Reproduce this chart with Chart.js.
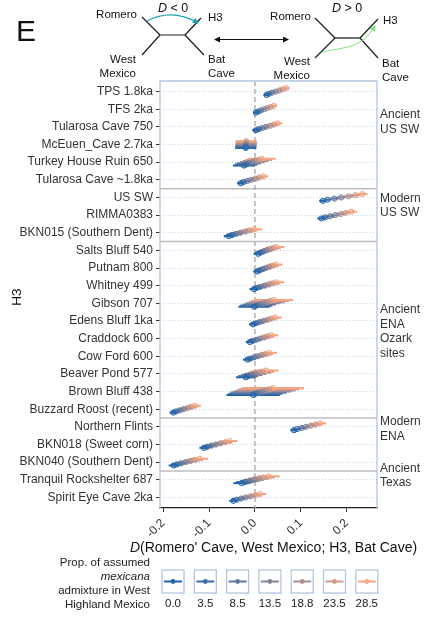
<!DOCTYPE html>
<html><head><meta charset="utf-8">
<script src="https://cdn.jsdelivr.net/npm/chart.js@4"></script>
<style>
html,body{margin:0;padding:0;background:#fff;}
#wrap{position:relative;width:427px;height:617px;overflow:hidden;}
#c{position:absolute;left:0;top:0;}
#diag{position:absolute;left:0;top:0;}
#diag text{font-family:"Liberation Sans",Arial,Helvetica,sans-serif;fill:#111;}
</style></head><body>
<div id="wrap">
<canvas id="c" width="427" height="617"></canvas>
<svg id="diag" width="427" height="86" viewBox="0 0 427 86">
<defs>
<marker id="ab" markerWidth="6" markerHeight="6" refX="5" refY="3" orient="auto" markerUnits="userSpaceOnUse"><path d="M0,0 L6,3 L0,6 z" fill="#111"/></marker>
<marker id="as" markerWidth="6" markerHeight="6" refX="1" refY="3" orient="auto" markerUnits="userSpaceOnUse"><path d="M6,0 L0,3 L6,6 z" fill="#111"/></marker>
<marker id="at" markerWidth="6" markerHeight="6" refX="5" refY="3" orient="auto" markerUnits="userSpaceOnUse"><path d="M0,0 L6,3 L0,6 z" fill="#1AA3B5"/></marker>
<marker id="ag" markerWidth="6" markerHeight="6" refX="5" refY="3" orient="auto" markerUnits="userSpaceOnUse"><path d="M0,0 L6,3 L0,6 z" fill="#7EDC7E"/></marker>
</defs>
<text x="16" y="41" font-size="30">E</text>
<!-- left tree -->
<g stroke="#222" stroke-width="1.3" fill="none">
<line x1="142" y1="17" x2="160" y2="35"/>
<line x1="160" y1="35" x2="185" y2="35" stroke="#555"/>
<line x1="185" y1="35" x2="201" y2="18"/>
<line x1="160" y1="35" x2="142" y2="55"/>
<line x1="185" y1="35" x2="204" y2="55"/>
</g>
<path d="M147,21 Q172,8 198,23" stroke="#1AA3B5" stroke-width="1.2" fill="none" marker-end="url(#at)"/>
<text x="137" y="18" font-size="11.5" text-anchor="end">Romero</text>
<text x="208" y="21" font-size="11.5">H3</text>
<text x="136" y="63" font-size="11.5" text-anchor="end">West</text>
<text x="136" y="77" font-size="11.5" text-anchor="end">Mexico</text>
<text x="208" y="63" font-size="11.5">Bat</text>
<text x="208" y="77" font-size="11.5">Cave</text>
<text x="173" y="12" font-size="12.5" text-anchor="middle"><tspan font-style="italic">D</tspan> &lt; 0</text>
<line x1="215" y1="39.5" x2="288" y2="39.5" stroke="#111" stroke-width="1" marker-end="url(#ab)" marker-start="url(#as)"/>
<!-- right tree -->
<g stroke="#222" stroke-width="1.3" fill="none">
<line x1="315" y1="18" x2="335" y2="38"/>
<line x1="335" y1="38" x2="360" y2="38"/>
<line x1="360" y1="38" x2="378" y2="19"/>
<line x1="335" y1="38" x2="315" y2="58"/>
<line x1="360" y1="38" x2="378" y2="58"/>
</g>
<path d="M322,52 C346,47 362,48 375,26" stroke="#7EDC7E" stroke-width="1" fill="none" marker-end="url(#ag)"/>
<text x="311" y="20" font-size="11.5" text-anchor="end">Romero</text>
<text x="383" y="24" font-size="11.5">H3</text>
<text x="310" y="65" font-size="11.5" text-anchor="end">West</text>
<text x="310" y="79" font-size="11.5" text-anchor="end">Mexico</text>
<text x="382" y="67" font-size="11.5">Bat</text>
<text x="382" y="81" font-size="11.5">Cave</text>
<text x="347" y="12" font-size="12.5" text-anchor="middle"><tspan font-style="italic">D</tspan> &gt; 0</text>
</svg>
</div>
<script>
// ---------- DATA ----------
const categories = [
  'TPS 1.8ka','TFS 2ka','Tularosa Cave 750','McEuen_Cave 2.7ka','Turkey House Ruin 650','Tularosa Cave ~1.8ka',
  'US SW','RIMMA0383','BKN015 (Southern Dent)',
  'Salts Bluff 540','Putnam 800','Whitney 499','Gibson 707','Edens Bluff 1ka','Craddock 600','Cow Ford 600','Beaver Pond 577','Brown Bluff 438','Buzzard Roost (recent)',
  'Northern Flints','BKN018 (Sweet corn)','BKN040 (Southern Dent)',
  'Tranquil Rockshelter 687','Spirit Eye Cave 2ka'
];
const groupNames = [['Ancient','US SW'],['Modern','US SW'],['Ancient','ENA','Ozark','sites'],['Modern','ENA'],['Ancient','Texas']];
const groupSizes = [6,3,10,3,2];
const groupLabelRow = [1.33,6.05,12.38,18.71,21.35];
const admixture = ['0.0','3.5','8.5','13.5','18.8','23.5','28.5'];
const xTicks = [-0.2,-0.1,0.0,0.1,0.2];

// D statistic per admixture proportion (one value per category)
const d_00 = [0.025,0.002,0.002,-0.020,-0.024,-0.031,0.148,0.145,-0.057,0.007,0.005,-0.002,-0.002,-0.004,-0.011,-0.016,-0.020,-0.004,-0.178,0.085,-0.111,-0.177,-0.029,-0.047];
const d_35 = [0.030,0.007,0.008,-0.020,-0.019,-0.025,0.158,0.153,-0.050,0.012,0.010,0.004,0.003,0.002,-0.005,-0.010,-0.015,0.001,-0.172,0.092,-0.104,-0.170,-0.022,-0.040];
const d_85 = [0.037,0.013,0.016,-0.020,-0.013,-0.017,0.173,0.164,-0.041,0.018,0.017,0.012,0.010,0.010,0.003,-0.002,-0.007,0.008,-0.164,0.102,-0.095,-0.161,-0.012,-0.030];
const d_135 = [0.045,0.020,0.024,-0.019,-0.006,-0.008,0.188,0.175,-0.032,0.025,0.023,0.021,0.018,0.018,0.011,0.006,0.000,0.016,-0.156,0.111,-0.085,-0.151,-0.002,-0.020];
const d_188 = [0.053,0.027,0.033,-0.019,0.001,0.001,0.204,0.187,-0.021,0.032,0.031,0.030,0.026,0.027,0.020,0.015,0.009,0.024,-0.147,0.122,-0.075,-0.141,0.009,-0.009];
const d_235 = [0.060,0.034,0.041,-0.019,0.008,0.009,0.219,0.198,-0.012,0.039,0.038,0.038,0.033,0.035,0.028,0.023,0.016,0.031,-0.139,0.132,-0.065,-0.131,0.019,0.001];
const d_285 = [0.068,0.041,0.049,-0.019,0.015,0.018,0.234,0.210,-0.002,0.046,0.045,0.047,0.041,0.044,0.036,0.031,0.024,0.039,-0.131,0.142,-0.055,-0.121,0.030,0.011];

// half-width of the confidence interval
const ci_00 = [0.006,0.006,0.008,0.023,0.024,0.008,0.008,0.009,0.011,0.010,0.009,0.010,0.034,0.009,0.009,0.010,0.021,0.058,0.008,0.008,0.010,0.011,0.018,0.009];
const ci_35 = [0.006,0.006,0.008,0.023,0.025,0.008,0.008,0.009,0.012,0.011,0.010,0.011,0.035,0.010,0.010,0.011,0.022,0.059,0.009,0.009,0.011,0.012,0.019,0.010];
const ci_85 = [0.007,0.006,0.009,0.023,0.026,0.009,0.009,0.010,0.013,0.012,0.011,0.012,0.036,0.010,0.011,0.012,0.023,0.061,0.009,0.009,0.012,0.013,0.020,0.010];
const ci_135 = [0.007,0.006,0.009,0.023,0.027,0.009,0.009,0.010,0.014,0.014,0.012,0.013,0.038,0.011,0.012,0.013,0.024,0.063,0.010,0.010,0.013,0.015,0.021,0.011];
const ci_188 = [0.007,0.007,0.010,0.023,0.028,0.010,0.010,0.011,0.016,0.015,0.013,0.015,0.039,0.012,0.013,0.015,0.025,0.064,0.011,0.011,0.014,0.016,0.022,0.011];
const ci_235 = [0.008,0.007,0.010,0.023,0.029,0.010,0.010,0.011,0.017,0.017,0.014,0.016,0.041,0.013,0.014,0.016,0.026,0.066,0.012,0.012,0.015,0.018,0.023,0.012];
const ci_285 = [0.008,0.007,0.011,0.023,0.030,0.011,0.011,0.012,0.018,0.018,0.015,0.017,0.042,0.014,0.015,0.017,0.027,0.068,0.013,0.013,0.016,0.019,0.024,0.013];

const means = [d_00,d_35,d_85,d_135,d_188,d_235,d_285];
const halfWidths = [ci_00,ci_35,ci_85,ci_135,ci_188,ci_235,ci_285];

// ---------- STYLE ----------
const colors = ['#1F63AA','#3B6DA6','#60789F','#848398','#AB8F91','#CF9A89','#F4A582'];
const FONT = '"Liberation Sans", Arial, Helvetica, sans-serif';
const TXT = '#333333';
const dodge = 0.064;
function rgba(hex,a){const n=parseInt(hex.slice(1),16);return `rgba(${n>>16},${(n>>8)&255},${n&255},${a})`;}

const separators = [];
groupSizes.reduce((acc,s,i)=>{ if(i<groupSizes.length-1) separators.push(acc+s-0.5); return acc+s; },0);

const datasets = admixture.map((lab,i)=>({
  label: lab,
  data: categories.map((c,r)=>({x: means[i][r], y: r + (3-i)*dodge, err: halfWidths[i][r]})),
  showLine:false,
  pointRadius:2.6, pointHoverRadius:2.6, pointBorderWidth:1,
  borderColor: colors[i], backgroundColor: rgba(colors[i],0.35)
}));

const drawPlugin = {
  id:'draw',
  beforeDatasetsDraw(chart){
    const {ctx, chartArea:a, scales:{x,y}} = chart;
    ctx.save();
    ctx.beginPath(); ctx.rect(a.left,a.top,a.right-a.left,a.bottom-a.top); ctx.clip();
    const line=(x1,y1,x2,y2)=>{ctx.beginPath();ctx.moveTo(x1,y1);ctx.lineTo(x2,y2);ctx.stroke();};
    ctx.strokeStyle='#BEBEBE'; ctx.lineWidth=1.5;
    separators.forEach(s=>{const py=y.getPixelForValue(s); line(a.left,py,a.right,py);});
    ctx.setLineDash([5,3]); ctx.strokeStyle='#ABABAB'; ctx.lineWidth=1.4;
    const px0=x.getPixelForValue(0); line(px0,a.top,px0,a.bottom);
    ctx.setLineDash([]);
    chart.data.datasets.forEach(ds=>{
      ctx.strokeStyle=ds.borderColor; ctx.lineWidth=2.1;
      ds.data.forEach(p=>{const py=y.getPixelForValue(p.y); line(x.getPixelForValue(p.x-p.err),py,x.getPixelForValue(p.x+p.err),py);});
    });
    ctx.restore();
  },
  afterDraw(chart){
    const {ctx, chartArea:a, scales:{x,y}} = chart;
    ctx.save();
    // panel border (top/left/right)
    ctx.strokeStyle='#B3C6E0'; ctx.lineWidth=1.3;
    ctx.beginPath(); ctx.moveTo(a.left,a.bottom); ctx.lineTo(a.left,a.top); ctx.lineTo(a.right,a.top); ctx.lineTo(a.right,a.bottom); ctx.stroke();
    // group labels
    ctx.fillStyle=TXT; ctx.font='12px '+FONT; ctx.textAlign='left'; ctx.textBaseline='middle';
    groupNames.forEach((lines,g)=>{
      const y0=y.getPixelForValue(groupLabelRow[g]);
      lines.forEach((t,k)=>ctx.fillText(t,a.right+3,y0+k*14.5));
    });
    // y title
    ctx.save(); ctx.translate(17,297); ctx.rotate(-Math.PI/2);
    ctx.font='13.5px '+FONT; ctx.fillStyle='#111'; ctx.textAlign='center'; ctx.textBaseline='middle';
    ctx.fillText('H3',0,0); ctx.restore();
    // x title
    const cx=(a.left+a.right)/2+5, ty=548;
    ctx.font='italic 14px '+FONT; const wD=ctx.measureText('D').width;
    const rest="(Romero' Cave, West Mexico; H3, Bat Cave)";
    ctx.font='14px '+FONT; const wR=ctx.measureText(rest).width;
    let sx=cx-(wD+wR)/2;
    ctx.fillStyle='#111'; ctx.textBaseline='middle'; ctx.textAlign='left';
    ctx.font='italic 14px '+FONT; ctx.fillText('D',sx,ty);
    ctx.font='14px '+FONT; ctx.fillText(rest,sx+wD,ty);
    // legend title
    ctx.textAlign='right'; ctx.fillStyle='#222';
    const lt=[['Prop. of assumed',''],['mexicana','italic '],['admixture in West',''],['Highland Mexico','']];
    lt.forEach((l,k)=>{ctx.font=l[1]+'11.5px '+FONT; ctx.fillText(l[0],150,563+k*14);});
    // legend keys
    chart.data.datasets.forEach((ds,i)=>{
      const bx=162+i*32.3, by=570, bw=22, bh=23;
      ctx.strokeStyle='#B3C6E0'; ctx.lineWidth=1.3; ctx.strokeRect(bx,by,bw,bh);
      ctx.strokeStyle=ds.borderColor; ctx.lineWidth=2;
      ctx.beginPath(); ctx.moveTo(bx+2,by+bh/2); ctx.lineTo(bx+bw-2,by+bh/2); ctx.stroke();
      ctx.beginPath(); ctx.arc(bx+bw/2,by+bh/2,2.4,0,Math.PI*2); ctx.fillStyle=ds.borderColor; ctx.fill();
      ctx.fillStyle='#222'; ctx.font='11.5px '+FONT; ctx.textAlign='center';
      ctx.fillText(ds.label,bx+bw/2,604);
    });
    ctx.restore();
  }
};

new Chart(document.getElementById('c'),{
  type:'scatter',
  data:{datasets},
  options:{
    responsive:false, animation:false, devicePixelRatio:1,
    layout:{padding:{top:81,right:50,left:0,bottom:0}},
    plugins:{legend:{display:false},tooltip:{enabled:false},title:{display:false}},
    scales:{
      x:{
        type:'linear', min:-0.207, max:0.266,
        afterBuildTicks:(s)=>{s.ticks=xTicks.map(v=>({value:v}));},
        afterFit:(s)=>{s.height=109;},
        ticks:{minRotation:45,maxRotation:45,autoSkip:false,padding:4,color:TXT,font:{family:FONT,size:12},
          callback:(v)=>Number(v).toFixed(1)},
        grid:{display:true,drawOnChartArea:false,drawTicks:true,tickLength:4,tickColor:'#333',tickWidth:1},
        border:{display:true,color:'#222',width:1.3}
      },
      y:{
        type:'linear', reverse:true, min:-0.6, max:categories.length-0.4,
        afterBuildTicks:(s)=>{s.ticks=categories.map((c,i)=>({value:i}));},
        afterFit:(s)=>{s.width=160;},
        ticks:{autoSkip:false,padding:3,color:TXT,font:{family:FONT,size:12},
          callback:(v,i)=>categories[i]},
        grid:{display:true,drawOnChartArea:true,color:'#C3D2E8',lineWidth:1,drawTicks:true,tickLength:4,tickColor:'#333',tickWidth:1},
        border:{display:false,dash:[1,2]}
      }
    }
  },
  plugins:[drawPlugin]
});
</script>
</body></html>
